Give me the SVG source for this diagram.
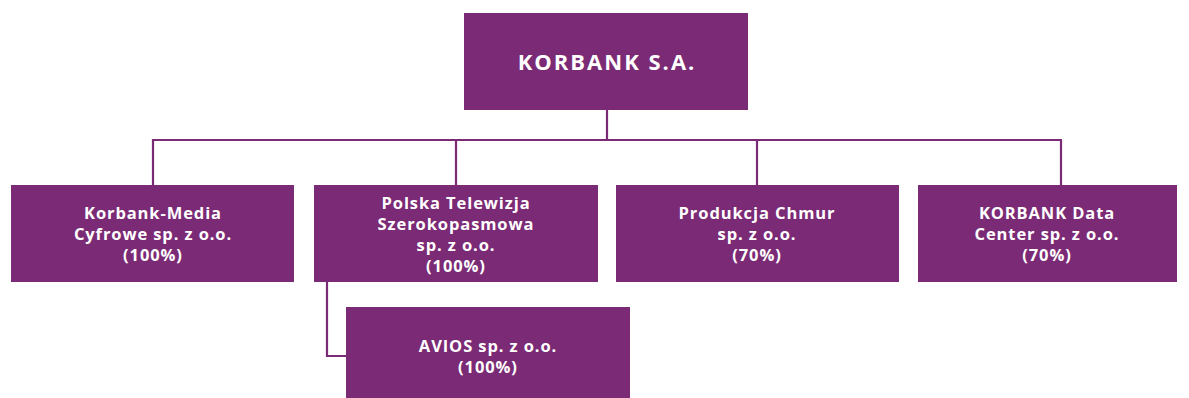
<svg xmlns="http://www.w3.org/2000/svg" width="1189" height="398" viewBox="0 0 1189 398">
<style>
.box{fill:#7b2a75;}
.t{fill:#ffffff;font-family:"Open Sans","DejaVu Sans",sans-serif;font-weight:700;font-size:16.5px;letter-spacing:0.9px;text-anchor:middle;}
.title{font-size:22px;letter-spacing:2px;}
.c{stroke:#7b2a75;stroke-width:2.2;fill:none;}
</style>
<rect width="1189" height="398" fill="#ffffff"/>
<g id="connectors">
<path class="c" d="M607 110 V140"/>
<path class="c" d="M153 185 V140 H1061 V185"/>
<path class="c" d="M456 140 V185"/>
<path class="c" d="M757 140 V185"/>
<path class="c" d="M327 282 V356 H346"/>
</g>
<g id="korbank">
<rect class="box" x="464" y="13" width="284" height="97"/>
<text class="t title" x="607" y="70">KORBANK S.A.</text>
</g>
<g id="korbank-media">
<rect class="box" x="11" y="185" width="283" height="97"/>
<text class="t" x="153" y="219">Korbank-Media</text>
<text class="t" x="153" y="240">Cyfrowe sp. z o.o.</text>
<text class="t" x="153" y="261">(100%)</text>
</g>
<g id="polska-telewizja">
<rect class="box" x="314" y="185" width="284" height="97"/>
<text class="t" x="456" y="209">Polska Telewizja</text>
<text class="t" x="456" y="230">Szerokopasmowa</text>
<text class="t" x="456" y="251">sp. z o.o.</text>
<text class="t" x="456" y="272">(100%)</text>
</g>
<g id="produkcja-chmur">
<rect class="box" x="616" y="185" width="283" height="97"/>
<text class="t" x="757" y="219">Produkcja Chmur</text>
<text class="t" x="757" y="240">sp. z o.o.</text>
<text class="t" x="757" y="261">(70%)</text>
</g>
<g id="korbank-data-center">
<rect class="box" x="918" y="185" width="259" height="97"/>
<text class="t" x="1047" y="219">KORBANK Data</text>
<text class="t" x="1047" y="240">Center sp. z o.o.</text>
<text class="t" x="1047" y="261">(70%)</text>
</g>
<g id="avios">
<rect class="box" x="346" y="307" width="284" height="91"/>
<text class="t" x="488" y="352">AVIOS sp. z o.o.</text>
<text class="t" x="488" y="373">(100%)</text>
</g>
</svg>
